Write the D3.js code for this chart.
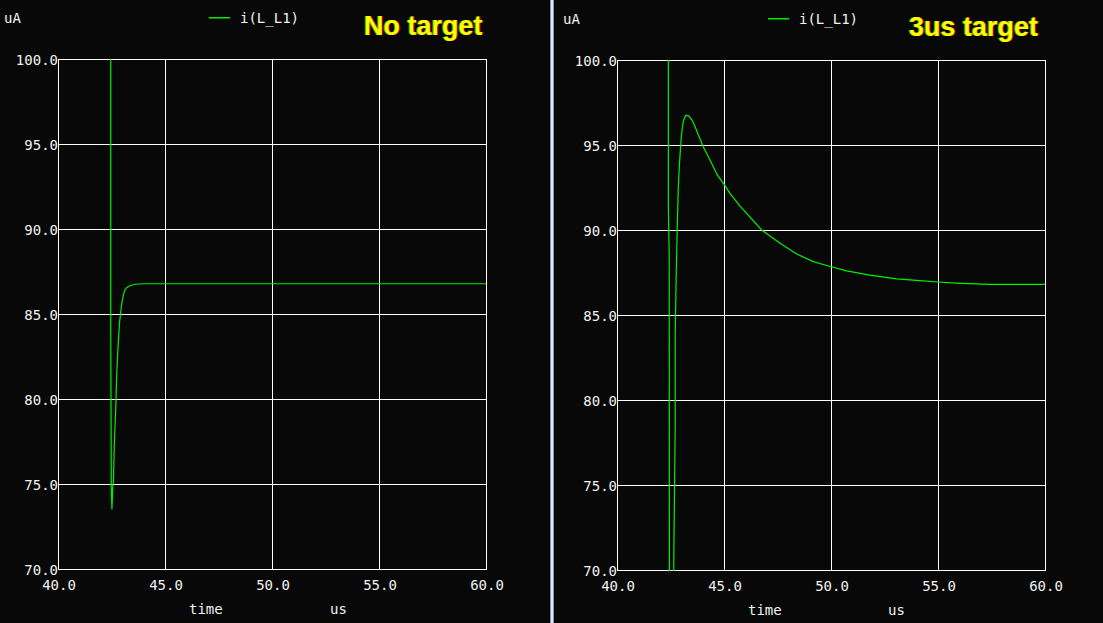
<!DOCTYPE html>
<html>
<head>
<meta charset="utf-8">
<script src="https://cdn.jsdelivr.net/npm/d3@7"></script>
<style>
  html, body { margin: 0; padding: 0; background: #080808; }
  svg { display: block; }
  .mono { font-family: "DejaVu Sans Mono", monospace; font-size: 14px; fill: #f2f2f2; }
  .title { font-family: "Liberation Sans", Arial, sans-serif; font-weight: bold; font-size: 27px; }
</style>
</head>
<body>
<svg id="chart" width="1103" height="623"></svg>
<script>
// axis ticks
let timeTicks = [40, 45, 50, 55, 60];
let currentTicks = [70, 75, 80, 85, 90, 95, 100];

// "No target" trace, time in us, current in uA
let noTargetTime = [42.465, 42.465, 42.49, 42.52, 42.56, 42.59, 42.63, 42.70, 42.74, 42.79, 42.84,
    42.88, 42.93, 42.98, 43.02, 43.07, 43.12, 43.21, 43.36, 43.60, 44.0, 60];
let noTargetCurrent = [104, 84.45, 74.8, 73.5, 74.9, 75.1, 77.3, 79.5, 81.3, 82.7, 83.8,
    84.55, 85.1, 85.6, 85.9, 86.2, 86.4, 86.55, 86.66, 86.75, 86.78, 86.78];

// "3us target" trace
let targetTime = [42.40, 42.40, 42.44, 42.45, 42.54, 42.63, 42.66, 42.72, 42.72, 42.77, 42.82,
    42.86, 42.91, 42.96, 43.00, 43.05, 43.10, 43.16, 43.22, 43.36, 43.49, 43.64, 43.80,
    44.03, 44.35, 44.66, 45.05, 45.28, 45.75, 46.76, 47.62, 48.40, 49.17, 50.01, 50.73,
    51.82, 53.07, 54.16, 55.01, 55.87, 57.35, 60];
let targetCurrent = [104, 91.3, 88.5, 66, 58, 66, 71.4, 78.5, 83.8, 87.6, 90.35,
    92.35, 93.7, 94.7, 95.4, 96.0, 96.4, 96.6, 96.75, 96.7, 96.5, 96.1, 95.6,
    94.9, 94.1, 93.3, 92.6, 92.16, 91.4, 90.0, 89.22, 88.59, 88.14, 87.84, 87.6,
    87.35, 87.12, 87.02, 86.94, 86.88, 86.8, 86.8];

let svg = d3.select("#chart");

drawPanel({ id: "left", dx: 0, dy: 0, title: "No target", titleX: 364, titleY: 35,
    times: noTargetTime, values: noTargetCurrent, unitX: 330 });
drawPanel({ id: "right", dx: 559, dy: 1, title: "3us target", titleX: 350, titleY: 35,
    times: targetTime, values: targetCurrent, unitX: 329 });

// divider between the two plots
svg.append("rect").attr("x", 550).attr("y", 0).attr("width", 4).attr("height", 623).attr("fill", "#8c8cab");
svg.append("rect").attr("x", 551).attr("y", 0).attr("width", 2).attr("height", 623).attr("fill", "#e8e8f4");

function drawPanel(opt) {
    let left = 58, right = 486, top = 59, bottom = 569;

    let g = svg.append("g").attr("transform", "translate(" + opt.dx + "," + opt.dy + ")");

    let x = d3.scaleLinear().domain([40, 60]).range([left, right]);
    let y = d3.scaleLinear().domain([70, 100]).range([bottom, top]);

    // grid, the outer lines are the frame
    g.selectAll(".vgrid").data(timeTicks).enter().append("line")
        .attr("x1", d => x(d) + 0.5).attr("x2", d => x(d) + 0.5)
        .attr("y1", top).attr("y2", bottom + 1)
        .attr("stroke", "#ffffff").attr("stroke-width", 1).attr("shape-rendering", "crispEdges");
    g.selectAll(".hgrid").data(currentTicks).enter().append("line")
        .attr("x1", left).attr("x2", right + 1)
        .attr("y1", d => y(d) + 0.5).attr("y2", d => y(d) + 0.5)
        .attr("stroke", "#ffffff").attr("stroke-width", 1).attr("shape-rendering", "crispEdges");

    // tick labels
    g.selectAll(".ylab").data(currentTicks).enter().append("text")
        .attr("class", "mono").attr("text-anchor", "end")
        .attr("x", left).attr("y", d => y(d) + 5.5)
        .text(d => d.toFixed(1));
    g.selectAll(".xlab").data(timeTicks).enter().append("text")
        .attr("class", "mono").attr("text-anchor", "middle")
        .attr("x", d => x(d) + 1).attr("y", bottom + 21)
        .text(d => d.toFixed(1));

    g.append("text").attr("class", "mono").attr("x", 189).attr("y", 614).text("time");
    g.append("text").attr("class", "mono").attr("x", opt.unitX).attr("y", 614).text("us");
    g.append("text").attr("class", "mono").attr("x", 4).attr("y", 23).text("uA");

    // legend swatch
    g.append("rect").attr("x", 209).attr("y", 17).attr("width", 21).attr("height", 1.5)
        .attr("fill", "#00f000");
    g.append("text").attr("class", "mono").attr("x", 240).attr("y", 23).text("i(L_L1)");

    // title with the slight colour fringe of the original
    g.append("text").attr("class", "title").attr("x", opt.titleX + 1).attr("y", opt.titleY)
        .attr("fill", "#a00000").text(opt.title);
    g.append("text").attr("class", "title").attr("x", opt.titleX - 1).attr("y", opt.titleY)
        .attr("fill", "#40a000").text(opt.title);
    g.append("text").attr("class", "title").attr("x", opt.titleX).attr("y", opt.titleY)
        .attr("fill", "#ffff00").text(opt.title);

    // trace
    g.append("clipPath").attr("id", "clip-" + opt.id)
        .append("rect").attr("x", left).attr("y", top).attr("width", right - left + 1).attr("height", bottom - top + 1);

    let points = opt.times.map((t, i) => [t, opt.values[i]]);
    let line = d3.line().x(d => x(d[0])).y(d => y(d[1]));

    g.append("path")
        .attr("clip-path", "url(#clip-" + opt.id + ")")
        .attr("d", line(points))
        .attr("fill", "none")
        .attr("stroke", "#00f000")
        .attr("stroke-width", 1.2);
}
</script>
</body>
</html>
